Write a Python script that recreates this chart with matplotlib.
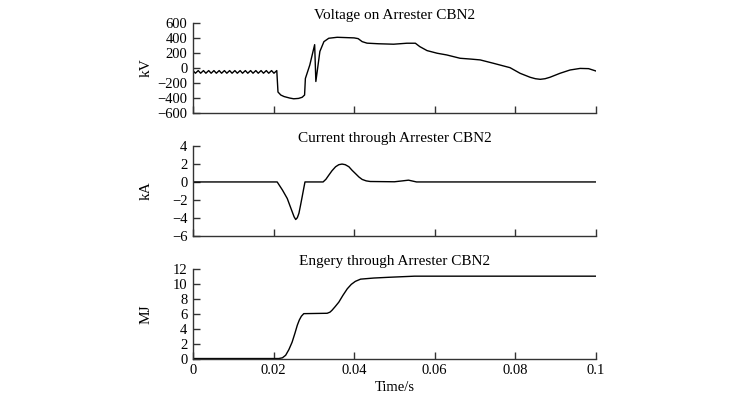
"""
避雷器 CBN2 电压、电流、能量波形
"""

import matplotlib.pyplot as plt

plt.rcParams['font.family'] = ['Liberation Serif', 'DejaVu Serif']
plt.rcParams['axes.unicode_minus'] = True

# 电压 (kV)
volt_t = [0.0000, 0.0006, 0.0013, 0.0019, 0.0026, 0.0032, 0.0039, 0.0045, 0.0052,
          0.0058, 0.0065, 0.0071, 0.0078, 0.0084, 0.0091, 0.0097, 0.0104, 0.0110,
          0.0117, 0.0123, 0.0130, 0.0136, 0.0143, 0.0149, 0.0156, 0.0162, 0.0169,
          0.0175, 0.0182, 0.0188, 0.0195, 0.0201, 0.0208,
          0.0211, 0.0218, 0.0226, 0.0240, 0.0250, 0.0262, 0.0271, 0.0277, 0.0279,
          0.0290, 0.0302, 0.0305, 0.0315, 0.0325, 0.0337, 0.0358, 0.0400, 0.0410,
          0.0420, 0.0432, 0.0460, 0.0498, 0.0531, 0.0552, 0.0563, 0.0581, 0.0606,
          0.0630, 0.0663, 0.0690, 0.0713, 0.0746, 0.0787, 0.0812, 0.0837, 0.0850,
          0.0862, 0.0874, 0.0886, 0.0911, 0.0936, 0.0961, 0.0982, 0.1000]
volt_v = [-35, -70, -35, -70, -35, -70, -35, -70, -35,
          -70, -35, -70, -35, -70, -35, -70, -35, -70,
          -35, -70, -35, -70, -35, -70, -35, -70, -35,
          -70, -35, -70, -35, -70, -35,
          -320, -360, -380, -400, -410, -405, -390, -360, -140,
          40, 310, -180, 220, 350, 395, 408, 400, 390,
          350, 330, 322, 316, 329, 329, 284, 231, 196,
          173, 129, 118, 107, 62, 4, -71, -124, -143,
          -151, -143, -124, -71, -27, -6, -9, -40]

# 电流 (kA)
curr_t = [0.0000, 0.0209, 0.0222, 0.0234, 0.0246, 0.0251, 0.0255, 0.0259, 0.0263,
          0.0267, 0.0271, 0.0275, 0.0278, 0.0323, 0.0330, 0.0337, 0.0345, 0.0354,
          0.0362, 0.0370, 0.0378, 0.0387, 0.0395, 0.0403, 0.0412, 0.0420, 0.0430,
          0.0440, 0.0500, 0.0520, 0.0535, 0.0555, 0.1000]
curr_i = [0, 0, -0.9, -1.85, -3.3, -3.9, -4.2, -4.0, -3.5,
          -2.6, -1.66, -0.7, 0, 0, 0.3, 0.75, 1.25, 1.7,
          1.93, 2.0, 1.93, 1.7, 1.3, 0.95, 0.55, 0.28, 0.12,
          0.05, 0.02, 0.12, 0.2, 0, 0]

# 能量 (MJ)
engy_t = [0.0000, 0.0213, 0.0222, 0.0230, 0.0238, 0.0246, 0.0253, 0.0259, 0.0264,
          0.0269, 0.0275, 0.0333, 0.0340, 0.0345, 0.0353, 0.0362, 0.0372, 0.0383,
          0.0393, 0.0403, 0.0416, 0.0449, 0.0486, 0.0550, 0.1000]
engy_e = [0, 0, 0.1, 0.44, 1.2, 2.2, 3.4, 4.5, 5.2,
          5.7, 6.05, 6.1, 6.25, 6.5, 7.0, 7.6, 8.5, 9.4,
          10.0, 10.4, 10.7, 10.85, 10.95, 11.1, 11.1]

x_ticks = [0, 0.02, 0.04, 0.06, 0.08, 0.1]
x_labels = ['0', '0.02', '0.04', '0.06', '0.08', '0.1']

fig = plt.figure(figsize=(7.46, 3.94), dpi=100)
ax1 = fig.add_axes([0.2587, 0.713, 0.540, 0.229])
ax2 = fig.add_axes([0.2587, 0.402, 0.540, 0.227])
ax3 = fig.add_axes([0.2587, 0.090, 0.540, 0.226])

fs = 10.5
panels = [
    (ax1, volt_t, volt_v, 'Voltage on Arrester CBN2', 'kV', (-600, 600), range(-600, 601, 200)),
    (ax2, curr_t, curr_i, 'Current through Arrester CBN2', 'kA', (-6, 4), range(-6, 5, 2)),
    (ax3, engy_t, engy_e, 'Engery through Arrester CBN2', 'MJ', (0, 12), range(0, 13, 2)),
]
for ax, t, y, title, ylab, ylim, yt in panels:
    ax.plot(t, y, color='black', linewidth=1.0)
    ax.set_xlim(0, 0.1)
    ax.set_ylim(*ylim)
    ax.set_yticks(list(yt))
    ax.set_xticks(x_ticks)
    ax.spines['top'].set_visible(False)
    ax.spines['right'].set_visible(False)
    for s in ('left', 'bottom'):
        ax.spines[s].set_color('#333333')
        ax.spines[s].set_linewidth(1.0)
    ax.tick_params(direction='in', length=5, width=1.0, color='#333333',
                   labelsize=fs, pad=4)
    ax.set_title(title, fontsize=11, pad=3)
    ax.set_ylabel(ylab, fontsize=11)
    ax.yaxis.set_label_coords(-0.1, 0.5)

ax1.set_xticklabels([])
ax2.set_xticklabels([])
ax3.set_xticklabels(x_labels)
ax3.set_xlabel('Time/s', fontsize=fs, labelpad=3)

plt.savefig('out.png', dpi=100)
